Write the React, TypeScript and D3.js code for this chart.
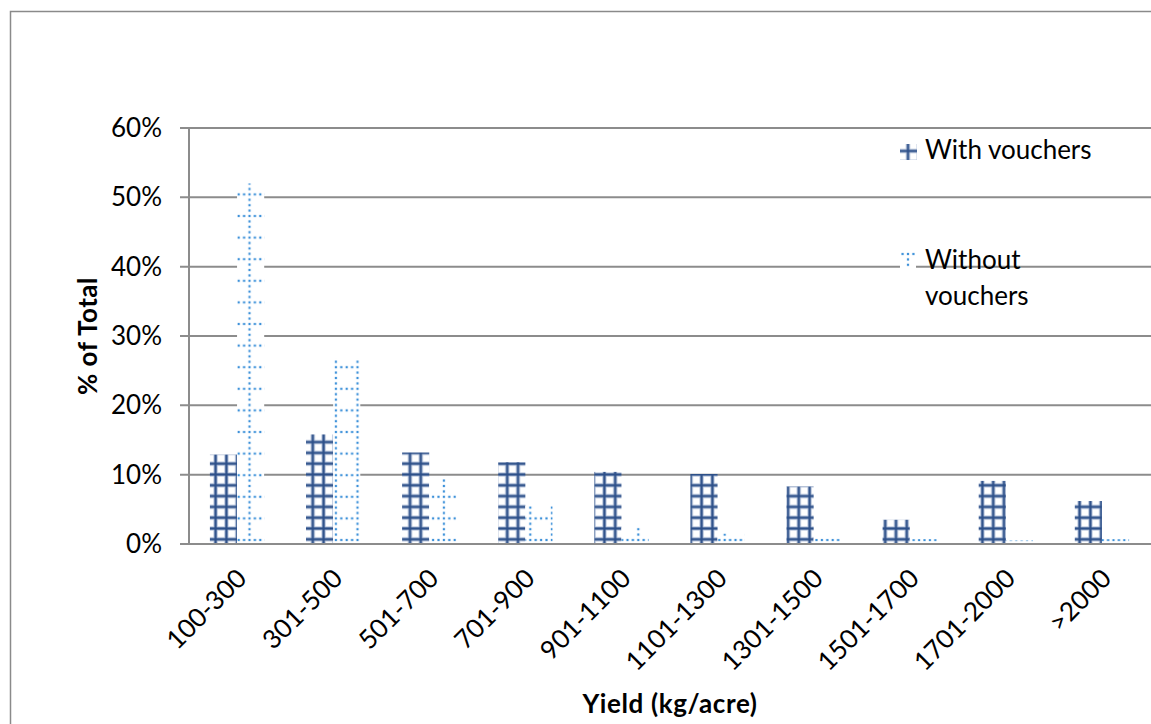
import React from "react";
import * as d3 from "d3";

const categories = ["100-300","301-500","501-700","701-900","901-1100","1101-1300","1301-1500","1501-1700","1701-2000",">2000"];
const withVouchers = [12.9, 15.8, 13.2, 11.8, 10.4, 10.1, 8.3, 3.5, 9.1, 6.2];
const withoutVouchers = [52.0, 26.7, 9.6, 5.5, 2.4, 1.5, 0.8, 0.7, 0.5, 0.7];
const yTicks = [0, 10, 20, 30, 40, 50, 60];
const seriesNames = ["With vouchers", "Without vouchers"];

const W = 1151, H = 724;
const plot = { left: 189, right: 1150, top: 128, bottom: 544 };
const FONT = "Lato, 'Open Sans', sans-serif";
const GRID = "#8c8c8c";
const DARK = "#2d5089";
const DOT = "#3b90d9";

function WithPattern({ id, px, py }: { id: string; px: number; py: number }) {
  return (
    <pattern id={id} patternUnits="userSpaceOnUse" x={px} y={py} width={10.8} height={10.8}>
      <rect width={10.8} height={10.8} fill="#fff" />
      <line x1={5.4} x2={5.4} y1={0} y2={10.8} stroke="#b4c2da" strokeWidth={4.2} />
      <line x1={0} x2={10.8} y1={5.4} y2={5.4} stroke="#b4c2da" strokeWidth={4.2} />
      <line x1={5.4} x2={5.4} y1={0} y2={10.8} stroke={DARK} strokeWidth={2.2} />
      <line x1={0} x2={10.8} y1={5.4} y2={5.4} stroke={DARK} strokeWidth={2.2} />
    </pattern>
  );
}

function WithoutPattern({ id, px, py }: { id: string; px: number; py: number }) {
  const rowDots = [0, 5.4, 10.8, 16.2, 21.6];
  const colDots = [0, 5.4, 16.2, 21.6];
  return (
    <pattern id={id} patternUnits="userSpaceOnUse" x={px} y={py} width={21.6} height={21.6}>
      <rect width={21.6} height={21.6} fill="#fff" />
      {rowDots.map((d, i) => (
        <rect key={"r" + i} x={d - 1.1} y={10.8 - 1.1} width={2.2} height={2.2} fill={DOT} />
      ))}
      {colDots.map((d, i) => (
        <rect key={"c" + i} x={10.8 - 1.1} y={d - 1.1} width={2.2} height={2.2} fill={DOT} />
      ))}
    </pattern>
  );
}

export default function App() {
  const x = d3.scaleBand<string>().domain(categories).range([plot.left, plot.right]).paddingInner(0).paddingOuter(0);
  const y = d3.scaleLinear().domain([0, 60]).range([plot.bottom, plot.top]);
  const bw = x.bandwidth();
  const barW = bw * 0.2825;

  return (
    <svg width={W} height={H} style={{ position: "absolute", left: 0, top: 0, background: "#fff" }}>
      <defs>
        <WithPattern id="patWith" px={404.6} py={533.9} />
        <WithoutPattern id="patWithout" px={238.7} py={529.2} />
        <WithPattern id="patWithKey" px={902.6} py={145.6} />
        <WithoutPattern id="patWithoutKey" px={897.2} py={243.2} />
      </defs>

      {/* outer frame */}
      <rect x={10.5} y={11.5} width={1160} height={740} fill="none" stroke="#8a8a8a" strokeWidth={1.5} />

      {/* gridlines */}
      {yTicks.map((t) => (
        <g key={t}>
          <line x1={180} x2={plot.right + 2} y1={y(t)} y2={y(t)} stroke={GRID} strokeWidth={2} />
          <text x={162} y={y(t) + 9} textAnchor="end" fontFamily={FONT} fontSize={26} fill="#000">{t}%</text>
        </g>
      ))}
      <line x1={plot.left} x2={plot.left} y1={plot.top} y2={plot.bottom} stroke={GRID} strokeWidth={2} />

      {/* bars */}
      {categories.map((c, i) => {
        const cx = (x(c) as number) + bw / 2;
        return (
          <g key={c}>
            <rect x={cx - barW} y={y(withVouchers[i])} width={barW} height={plot.bottom - 1 - y(withVouchers[i])} fill="url(#patWith)" />
            <rect x={cx} y={y(withoutVouchers[i])} width={barW} height={plot.bottom - 1 - y(withoutVouchers[i])} fill="url(#patWithout)" />
          </g>
        );
      })}
      <line x1={plot.left - 1} x2={plot.right + 2} y1={plot.bottom} y2={plot.bottom} stroke={GRID} strokeWidth={2} />

      {/* category labels */}
      {categories.map((c) => {
        const cx = (x(c) as number) + bw / 2;
        return (
          <text key={c} transform={`translate(${cx + 11},${580}) rotate(-45)`} textAnchor="end" fontFamily={FONT} fontSize={26} fill="#000">{c}</text>
        );
      })}

      {/* axis titles */}
      <text x={670} y={713} textAnchor="middle" fontFamily={FONT} fontWeight="bold" fontSize={26} letterSpacing={0.6} fill="#000">Yield (kg/acre)</text>
      <text transform={`translate(97,336) rotate(-90)`} textAnchor="middle" fontFamily={FONT} fontWeight="bold" fontSize={26} letterSpacing={0.5} fill="#000">% of Total</text>

      {/* legend */}
      <rect x={900} y={144} width={17} height={16} fill="url(#patWithKey)" />
      <text x={925} y={159} fontFamily={FONT} fontSize={26} fill="#000">{seriesNames[0]}</text>
      <rect x={900} y={252} width={16} height={16} fill="url(#patWithoutKey)" />
      <text x={925} y={269} fontFamily={FONT} fontSize={26} fill="#000">Without</text>
      <text x={925} y={305} fontFamily={FONT} fontSize={26} fill="#000">vouchers</text>
    </svg>
  );
}
